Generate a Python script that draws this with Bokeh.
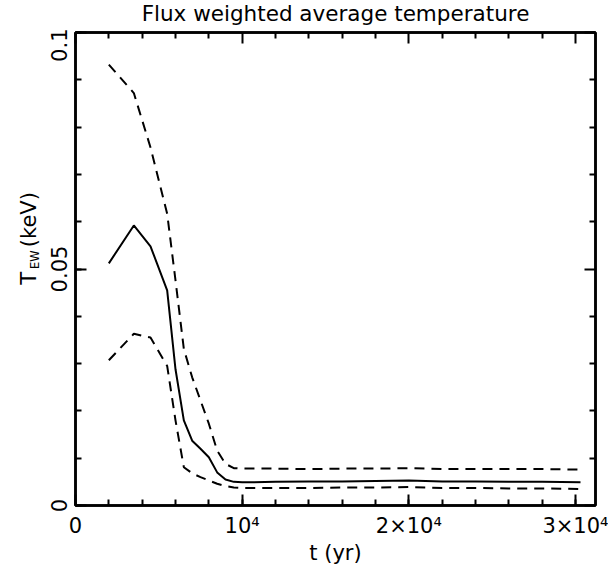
from math import pi
from bokeh.plotting import figure
from bokeh.layouts import row, column
from bokeh.models import Range1d, LinearAxis, FixedTicker
from bokeh.core.properties import value
from bokeh.embed import file_html
from bokeh.resources import INLINE

# ---- data ----
t_yr = [2000, 3500, 4500, 5500, 6000, 6500, 7000, 7500, 8000, 8500, 9000, 9500,
        10000, 12000, 14000, 16000, 18000, 20000, 22000, 24000, 26000, 28000, 30300]
temp_mean = [0.0512, 0.0592, 0.0548, 0.0455, 0.0288, 0.0180, 0.0137, 0.0120, 0.0102,
             0.0070, 0.0055, 0.0050, 0.0049, 0.0050, 0.0051, 0.0051, 0.0052, 0.0053,
             0.0051, 0.0051, 0.0050, 0.0050, 0.0049]
temp_upper = [0.0932, 0.0872, 0.0757, 0.0617, 0.0476, 0.0331, 0.0271, 0.0222, 0.0173,
              0.0116, 0.0088, 0.0079, 0.0078, 0.0078, 0.0077, 0.0078, 0.0078, 0.0079,
              0.0077, 0.0077, 0.0077, 0.0077, 0.0076]
temp_lower = [0.0307, 0.0363, 0.0355, 0.0295, 0.0180, 0.0081, 0.0068, 0.0060, 0.0053,
              0.0046, 0.0041, 0.0038, 0.0037, 0.0037, 0.0037, 0.0038, 0.0038, 0.0039,
              0.0037, 0.0037, 0.0036, 0.0036, 0.0035]

x_major = [0, 10000, 20000, 30000]
x_minor = list(range(0, 31001, 2000))
x_labels = {0: "0", 10000: "10\u2074", 20000: "2\u00d710\u2074", 30000: "3\u00d710\u2074"}
y_major = [0, 0.05, 0.1]
y_minor = [i / 100 for i in range(0, 11)]
y_labels = {0: "0", 0.05: "0.05", 0.1: "0.1"}

title_text = "Flux weighted average temperature"
x_title = "t (yr)"
y_title_parts = ["T", "EW", "(keV)"]

FONT = "DejaVu Sans"
FS = "21px"
W, H = 608, 570
TOP = 28         # height of the strip holding the title
LW = 41          # width of the strip holding the y-axis title
FL, FT = 75, 32  # frame left / top on the page
FW, FH = 520, 473

# ---- main plot ----
p = figure(frame_width=FW, frame_height=FH, output_backend="svg", toolbar_location=None,
           x_range=Range1d(0, 31200), y_range=Range1d(0, 0.1), title=None,
           x_axis_location=None, y_axis_location=None,
           min_border_left=FL - LW, min_border_right=W - FL - FW,
           min_border_top=FT - TOP, min_border_bottom=H - FT - FH)
p.grid.visible = False
p.outline_line_color = "black"
p.outline_line_width = 2.5
p.background_fill_color = "white"
p.border_fill_color = "white"


def tick_style(ax):
    ax.major_tick_in = 11
    ax.major_tick_out = 0
    ax.minor_tick_in = 6
    ax.minor_tick_out = 0
    ax.major_tick_line_width = 2
    ax.minor_tick_line_width = 2
    ax.major_tick_line_color = "black"
    ax.minor_tick_line_color = "black"
    ax.axis_line_width = 2.5
    ax.axis_line_color = "black"


def unlabeled_axes(majors, minors, loc):
    # opposite-side axes: only tick marks, no labels
    small = [m for m in minors if m not in majors]
    a1 = LinearAxis(ticker=FixedTicker(ticks=[], minor_ticks=small))
    a2 = LinearAxis(ticker=FixedTicker(ticks=[], minor_ticks=majors))
    for a, length in ((a1, 6), (a2, 11)):
        tick_style(a)
        a.minor_tick_in = length
        a.major_label_standoff = 0
        a.axis_label_standoff = 0
    a2.axis_line_color = None
    p.add_layout(a1, loc)
    p.add_layout(a2, loc)


xb = LinearAxis(ticker=FixedTicker(ticks=x_major, minor_ticks=x_minor))
tick_style(xb)
xb.major_label_overrides = x_labels
xb.major_label_text_font = FONT
xb.major_label_text_font_size = FS
xb.major_label_text_color = "black"
xb.major_label_standoff = 8
xb.axis_label = x_title
xb.axis_label_text_font = FONT
xb.axis_label_text_font_size = FS
xb.axis_label_text_font_style = "normal"
xb.axis_label_text_color = "black"
xb.axis_label_standoff = 0
p.add_layout(xb, "below")

yl = LinearAxis(ticker=FixedTicker(ticks=y_major, minor_ticks=y_minor))
tick_style(yl)
yl.major_label_overrides = y_labels
yl.major_label_text_font = FONT
yl.major_label_text_font_size = FS
yl.major_label_text_color = "black"
yl.major_label_orientation = "vertical"
yl.major_label_standoff = 9
p.add_layout(yl, "left")

unlabeled_axes(x_major, x_minor, "above")
unlabeled_axes(y_major, y_minor, "right")

p.line(t_yr, temp_upper, line_color="black", line_width=2, line_dash="10 7")
p.line(t_yr, temp_mean, line_color="black", line_width=2)
p.line(t_yr, temp_lower, line_color="black", line_width=2, line_dash="10 7")


def strip(w, h):
    f = figure(width=w, height=h, output_backend="svg", toolbar_location=None,
               x_range=Range1d(0, w), y_range=Range1d(0, h), title=None,
               x_axis_location=None, y_axis_location=None,
               min_border=0, min_border_left=0, min_border_right=0,
               min_border_top=0, min_border_bottom=0)
    f.grid.visible = False
    f.outline_line_color = None
    f.background_fill_color = "white"
    f.border_fill_color = "white"
    return f


# ---- title strip (pixel coordinates, y up) ----
ttl = strip(W, TOP)
ttl.text(x=[FL + FW / 2], y=[TOP - 12.6], text=[title_text],
         text_align="center", text_baseline="middle",
         text_font=value(FONT), text_font_size=value("21.5px"), text_color="black")

# ---- strip with the y-axis title T_EW (keV) (pixel coordinates, y up) ----
lab = strip(LW, H - TOP)
lab.text(x=[28.5, 28.5], y=[H - 317, H - 274], text=[y_title_parts[0], y_title_parts[2]],
         angle=pi / 2, text_align="left", text_baseline="middle",
         text_font=value(FONT), text_font_size=value(FS), text_color="black")
lab.text(x=[34.0], y=[H - 299], text=[y_title_parts[1]],
         angle=pi / 2, text_align="left", text_baseline="middle",
         text_font=value(FONT), text_font_size=value("11.5px"), text_color="black")

layout = column(ttl, row(lab, p, spacing=0), spacing=0)
open("out.html", "w").write(file_html(layout, INLINE))
